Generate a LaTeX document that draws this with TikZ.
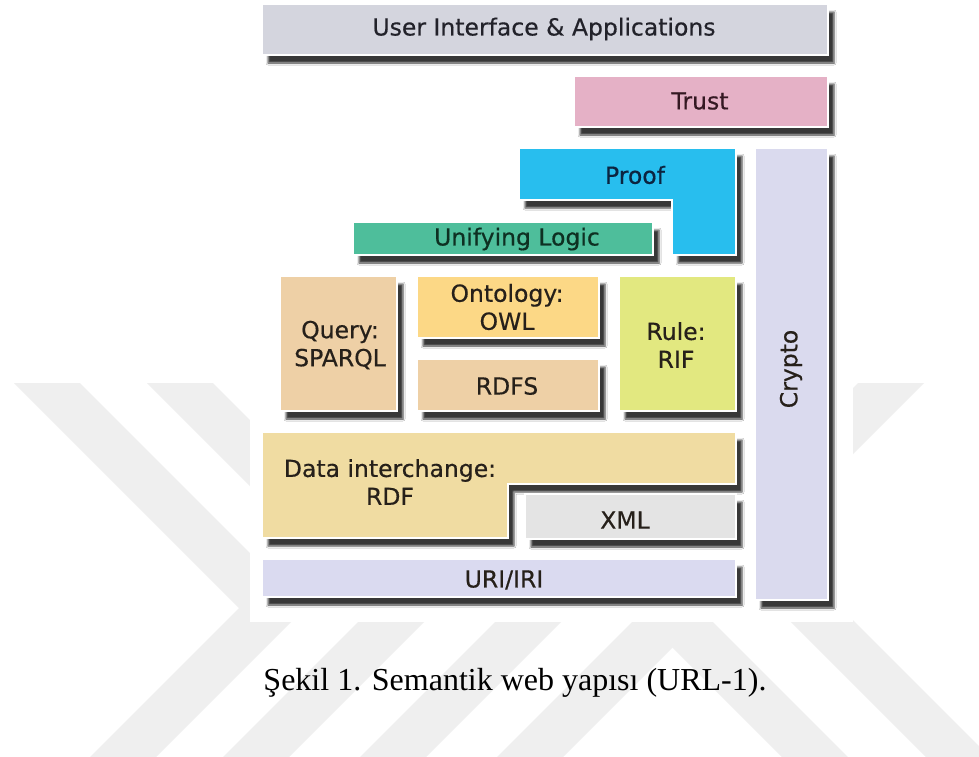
\documentclass[tikz,border=0pt]{standalone}
\usepackage{fontspec}
\setmainfont{Liberation Serif}
\newfontfamily\boxfont[FakeBold=0.5]{DejaVu Sans}
\usetikzlibrary{shadows.blur}

% layer colours
\definecolor{wmark}{RGB}{239,239,239}
\definecolor{uiC}{RGB}{212,213,222}
\definecolor{trustC}{RGB}{229,177,198}
\definecolor{proofC}{RGB}{40,190,238}
\definecolor{cryptoC}{RGB}{218,218,238}
\definecolor{logicC}{RGB}{78,190,155}
\definecolor{queryC}{RGB}{238,208,166}
\definecolor{owlC}{RGB}{252,216,134}
\definecolor{rdfsC}{RGB}{238,208,166}
\definecolor{ruleC}{RGB}{226,232,128}
\definecolor{rdfC}{RGB}{240,220,162}
\definecolor{xmlC}{RGB}{228,228,228}
\definecolor{uriC}{RGB}{218,218,240}
% text colours
\definecolor{ink}{RGB}{38,32,26}
\definecolor{inkUI}{RGB}{34,34,42}
\definecolor{inkTrust}{RGB}{52,24,34}
\definecolor{inkProof}{RGB}{12,36,64}
\definecolor{inkLogic}{RGB}{14,48,34}

\begin{document}
\begin{tikzpicture}[x=1pt, y=-1pt,
  boxshadow/.style={blur shadow={shadow xshift=6pt, shadow yshift=-8pt,
      shadow blur radius=2pt, shadow opacity=78}},
  layerbox/.style={boxshadow, draw=white, line width=1.2pt},
  lbl/.style={font=\boxfont\fontsize{23.5}{28}\selectfont, text=ink,
      align=center, inner sep=0pt},
  wm/.style={fill=wmark}]
\useasboundingbox (0,0) rectangle (979,756);
\fill[white] (0,0) rectangle (979,756);

% background watermark: chevron bands
\fill[wm] (14,383) -- (80,383) -- (305,608) -- (153,760) -- (87,760) -- (239,608) -- cycle;
\fill[wm] (147,383) -- (213,383) -- (438,608) -- (286,760) -- (220,760) -- (372,608) -- cycle;
\fill[wm] (284,383) -- (350,383) -- (575,608) -- (423,760) -- (357,760) -- (509,608) -- cycle;
\fill[wm] (421,383) -- (487,383) -- (712,608) -- (560,760) -- (494,760) -- (646,608) -- cycle;
\fill[wm] (924,383) -- (858,383) -- (633,608) -- (785,760) -- (851,760) -- (699,608) -- cycle;
\fill[wm] (552,383) -- (616,383) -- (993,760) -- (929,760) -- cycle;

% white panel behind the stack
\fill[white] (250,0) rectangle (853,622);

% the layers
\path[layerbox, fill=uiC] (262,4) rectangle (828,55);
\path[layerbox, fill=trustC] (574,76) rectangle (828,127);
\path[layerbox, fill=cryptoC] (755,148) rectangle (828,600);
\path[layerbox, fill=proofC] (519,148) -- (736,148) -- (736,255) -- (672,255)
  -- (672,200) -- (519,200) -- cycle;
\path[layerbox, fill=logicC] (353,222) rectangle (653,255);
\path[layerbox, fill=queryC] (280,276) rectangle (397,411);
\path[layerbox, fill=owlC] (417,276) rectangle (599,338);
\path[layerbox, fill=rdfsC] (417,359) rectangle (599,411);
\path[layerbox, fill=ruleC] (619,276) rectangle (736,411);
\path[layerbox, fill=rdfC] (262,432) -- (736,432) -- (736,484) -- (508,484)
  -- (508,538) -- (262,538) -- cycle;
\path[layerbox, fill=xmlC] (525,494) rectangle (736,539);
\path[layerbox, fill=uriC] (262,559) rectangle (736,597);

% labels
\node[lbl, text=inkUI] (ui) at (544,29) {User Interface \& Applications};
\node[lbl, text=inkTrust] (trust) at (700,101) {Trust};
\node[lbl, text=inkProof] (proof) at (635,175) {Proof};
\node[lbl, text=inkLogic] (logic) at (517,239) {Unifying Logic};
\node[lbl] (query) at (340,345) {Query:\\SPARQL};
\node[lbl] (owl) at (507,307) {Ontology:\\OWL};
\node[lbl] (rdfs) at (507,386) {RDFS};
\node[lbl] (rule) at (676,345) {Rule:\\RIF};
\node[lbl, rotate=90] (crypto) at (791,369) {Crypto};
\node[lbl] (rdf) at (390,482) {Data interchange:\\RDF};
\node[lbl] (xml) at (625,520) {XML};
\node[lbl] (uri) at (504,580) {URI/IRI};

% caption
\node[font=\fontsize{32}{38}\selectfont, anchor=base, inner sep=0pt] (caption)
  at (515,690) {Şekil 1. Semantik web yapısı (URL-1).};
\end{tikzpicture}
\end{document}
